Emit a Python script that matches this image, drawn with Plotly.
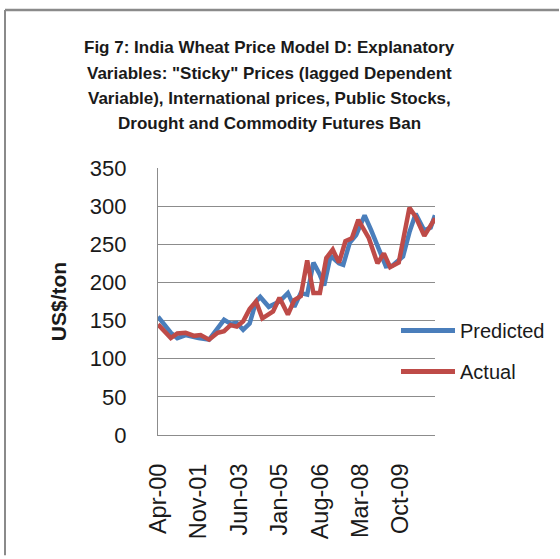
import pandas as pd
import plotly.graph_objects as go

# months after Apr-2000 where the lines turn, and the value read there (US$/ton)
actual_month = [0, 6, 9, 13, 17, 20, 24, 28, 31, 34, 37, 40, 43, 46, 49, 54, 57, 61, 64, 67,
                70, 73, 76, 79, 82, 85, 88, 91, 94, 99, 103, 106, 109, 113, 118, 121, 125, 128, 130]
actual_value = [145, 127, 133, 134, 130, 131, 125, 134, 136, 144, 142, 149, 165, 175, 153, 162, 180, 158, 177, 182,
                229, 186, 186, 232, 243, 226, 254, 258, 282, 258, 225, 238, 220, 226, 298, 286, 261, 275, 284]

pred_month = [0, 6, 9, 13, 19, 24, 31, 34, 37, 40, 43, 46, 48, 52, 57, 61, 64, 67, 70,
              73, 76, 78, 81, 85, 87, 90, 93, 97, 100, 103, 107, 110, 115, 118, 121, 125, 128, 130]
pred_value = [155, 134, 127, 131, 127, 125, 151, 146, 147, 138, 146, 175, 181, 168, 175, 186, 168, 186, 184,
              226, 210, 196, 235, 225, 223, 252, 262, 288, 269, 248, 221, 222, 234, 266, 290, 268, 272, 288]

tick_month = [0, 19, 38, 57, 76, 95, 114]
tick_text = ["Apr-00", "Nov-01", "Jun-03", "Jan-05", "Aug-06", "Mar-08", "Oct-09"]

title_lines = ["Fig 7: India Wheat Price Model D: Explanatory",
               "Variables: \"Sticky\" Prices (lagged Dependent",
               "Variable), International prices, Public Stocks,",
               "Drought and Commodity Futures Ban"]

start = pd.Timestamp("2000-04-01")


def to_date(months):
    return [start + pd.DateOffset(months=m) for m in months]


BLUE = "#4A7EBB"
RED = "#BE4B48"
GRID = "#8C8C8C"
FONT = "Liberation Sans"

fig = go.Figure()
fig.add_trace(go.Scatter(x=to_date(pred_month), y=pred_value, mode="lines", name="Predicted",
                         line=dict(color=BLUE, width=4.5)))
fig.add_trace(go.Scatter(x=to_date(actual_month), y=actual_value, mode="lines", name="Actual",
                         line=dict(color=RED, width=4.5)))

fig.update_layout(
    width=560, height=559,
    margin=dict(l=158, r=125, t=168, b=124),
    paper_bgcolor="white", plot_bgcolor="white",
    showlegend=False,
    font=dict(family=FONT, color="#1a1a1a"),
    xaxis=dict(type="date", range=[to_date([0])[0], to_date([130])[0]],
               tickvals=to_date(tick_month), ticktext=tick_text, tickangle=-90,
               tickfont=dict(size=23.5), ticks="", ticklabelstandoff=18,
               showgrid=False, showline=True, linecolor=GRID, linewidth=1.3, zeroline=False),
    yaxis=dict(range=[0, 350], dtick=50, tickfont=dict(size=22), ticks="",
               ticklabelstandoff=26, showgrid=True, gridcolor=GRID, gridwidth=1.3,
               showline=True, linecolor=GRID, linewidth=1.3, zeroline=False,
               title=dict(text="<b>US$/ton</b>", font=dict(size=21), standoff=17)),
)

# chart frame (left and top edges, the rest runs off the page)
frame_x = (5 - 158) / 277
frame_y = (435 - 10) / 267
fig.add_shape(type="line", xref="paper", yref="paper", x0=frame_x, x1=frame_x, y0=-0.45, y1=frame_y,
              line=dict(color="#8A8A8A", width=2))
fig.add_shape(type="line", xref="paper", yref="paper", x0=frame_x, x1=(559 - 158) / 277, y0=frame_y, y1=frame_y,
              line=dict(color="#8A8A8A", width=2.5))

# title, one line per annotation
title_y = [47, 73, 98, 123]
for text, py in zip(title_lines, title_y):
    fig.add_annotation(text="<b>" + text + "</b>", xref="paper", yref="paper",
                       x=(269 - 158) / 277, y=(435 - py) / 267, showarrow=False,
                       xanchor="center", yanchor="middle", font=dict(size=17, color="#1a1a1a"))

# legend drawn by hand so the sample lines are as long as in the original
for name, color, py in [("Predicted", BLUE, 330.5), ("Actual", RED, 371.5)]:
    yy = (435 - py) / 267
    fig.add_shape(type="line", xref="paper", yref="paper", x0=(401 - 158) / 277, x1=(455 - 158) / 277,
                  y0=yy, y1=yy, line=dict(color=color, width=5))
    fig.add_annotation(text=name, xref="paper", yref="paper", x=(458 - 158) / 277, y=yy,
                       xanchor="left", yanchor="middle", showarrow=False, font=dict(size=20))

fig.write_html("out.html", config={"displayModeBar": False},
               post_script="document.body.style.margin='0px';")
